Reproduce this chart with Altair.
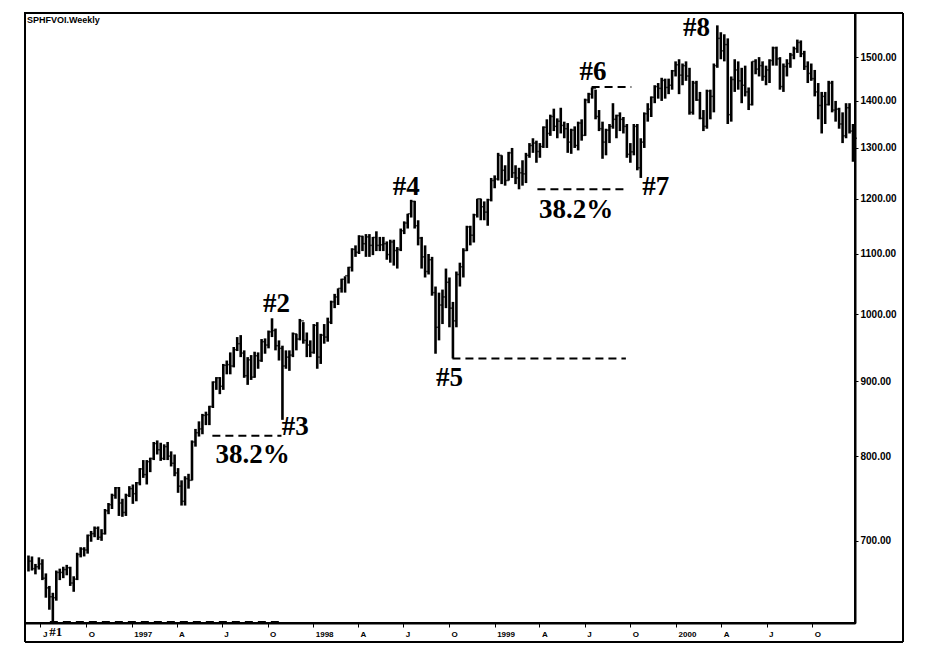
import altair as alt
import pandas as pd

# ---------------- weekly bars (futures) ----------------
H96 = [684,683,675,682,680,665,652,645,668,670,672,674,672,662,687,693,693,707,711,716,716,713,736,743,754,762,762,748,754,763]
L96 = [667,668,664,669,658,640,628,614,637,658,660,663,652,646,658,682,683,686,699,704,701,700,707,730,736,748,728,727,728,750]
C96 = [678,670,672,675,660,650,641,640,666,666,669,671,655,659,685,691,690,706,708,714,704,708,734,741,752,761,743,732,752,760]

H97 = [765,768,785,795,795,798,818,820,817,815, 818,806,802,785,770,775,778,820,835,845,
       855,858,866,900,906,906,925,930,942,950, 965,968,945,935,938,943,942,962,963,975,
       994,978,960,952,945,945,972,970,993,988, 972,960]
L97 = [742,745,764,773,765,780,795,802,794,795, 795,787,775,755,740,740,760,770,812,825,
       828,840,840,863,888,882,888,910,910,920, 944,935,905,895,902,905,918,928,940,948,
       965,945,930,847,918,915,935,945,960,955, 935,935]
C97 = [754,767,784,777,793,797,816,808,797,812, 800,791,779,763,745,772,770,818,830,835,
       853,854,865,899,905,893,923,924,922,946, 955,941,908,931,906,937,930,958,953,973,
       975,952,948,922,935,938,970,962,990,960, 953,942]

H98 = [985,988,970,985,995,1022,1033,1042,1058,1062, 1078,1110,1115,1133,1132,1135,1135,1130,1140,1130,
       1130,1122,1125,1125,1112,1145,1158,1172,1198,1196, 1160,1130,1115,1100,1095,1045,1035,1040,1075,1060,
       1020,1070,1085,1110,1150,1150,1172,1200,1200,1195, 1200,1240]
L98 = [940,918,925,955,958,985,1010,1015,1035,1035, 1050,1070,1095,1100,1105,1095,1095,1098,1105,1105,
       1105,1090,1085,1080,1075,1105,1135,1145,1165,1145, 1115,1075,1060,1065,1030,940,960,985,1010,980,
       933,980,1045,1060,1105,1115,1120,1165,1160,1160, 1150,1195]
C98 = [983,935,968,965,988,1020,1028,1042,1057,1063, 1077,1108,1103,1131,1118,1130,1115,1129,1115,1116,
       1118,1099,1121,1106,1108,1141,1155,1172,1195,1150, 1128,1095,1070,1090,1035,980,1015,1028,1052,1010,
       990,1065,1078,1106,1148,1133,1170,1200,1185,1175, 1198,1235]

H99 = [1245,1290,1285,1265,1292,1300,1265,1260,1275,1290, 1310,1320,1315,1310,1345,1360,1370,1383,1362,1385,
       1355,1352,1340,1345,1355,1360,1405,1418,1430,1425, 1380,1355,1340,1350,1395,1370,1375,1365,1350,1310,
       1350,1350,1320,1375,1395,1410,1435,1440,1452,1450, 1450,1470,1490]
L99 = [1220,1235,1228,1225,1235,1240,1228,1218,1225,1230, 1280,1290,1270,1280,1300,1300,1325,1335,1320,1330,
       1320,1290,1288,1300,1295,1315,1325,1395,1405,1360, 1335,1278,1285,1310,1340,1320,1335,1330,1280,1270,
       1285,1255,1240,1300,1355,1365,1395,1405,1400,1405, 1415,1425,1455]
C99 = [1238,1285,1255,1235,1290,1250,1240,1250,1248,1285, 1305,1310,1293,1303,1343,1330,1366,1345,1356,1347,
       1340,1312,1337,1305,1352,1326,1402,1415,1428,1366, 1340,1312,1337,1345,1360,1368,1360,1345,1287,1292,
       1345,1260,1312,1372,1382,1408,1432,1428,1446,1430, 1435,1468,1482]

H00 = [1495,1485,1490,1475,1445,1445,1420,1380,1425,1425, 1485,1577,1560,1555,1545,1455,1495,1490,1475,1480,
       1430,1490,1495,1500,1490,1480,1495,1525,1525,1500, 1485,1495,1510,1525,1542,1540,1515,1490,1485,1470,
       1440,1420,1420,1445,1445,1400,1385,1375,1395,1395, 1350]
L00 = [1415,1435,1445,1370,1370,1400,1360,1335,1340,1360, 1375,1475,1495,1490,1350,1355,1420,1425,1395,1410,
       1380,1390,1460,1455,1445,1435,1440,1480,1480,1425, 1420,1455,1475,1495,1510,1500,1470,1440,1445,1410,
       1360,1330,1350,1390,1375,1355,1340,1310,1320,1330, 1272]
C00 = [1458,1480,1456,1375,1440,1402,1362,1345,1422,1410, 1480,1545,1515,1530,1370,1448,1470,1445,1435,1420,
       1392,1490,1472,1480,1455,1470,1492,1522,1496,1432, 1478,1485,1505,1520,1535,1508,1478,1462,1450,1420,
       1390,1410,1392,1440,1380,1382,1350,1325,1385,1335, 1320]

high = H96 + H97 + H98 + H99 + H00
low = L96 + L97 + L98 + L99 + L00
close = C96 + C97 + C98 + C99 + C00
first_week = "1996-06-07"

# ---------------- annotations ----------------
level_start = ["1996-07-20", "1997-06-12", "1998-10-08", "1999-07-15", "1999-03-28"]
level_end = ["1997-10-25", "1997-10-29", "1999-09-22", "1999-10-03", "1999-09-24"]
level_value = [616, 826, 933, 1431, 1218]

note_date = ["1997-10-19", "1997-11-26", "1997-09-01", "1998-07-07", "1998-10-02",
             "1999-07-18", "1999-11-21", "1999-06-14", "2000-02-11"]
note_value = [1017, 838, 801, 1222, 905, 1465, 1222, 1179, 1570]
note_text = ["#2", "#3", "38.2%", "#4", "#5", "#6", "#7", "38.2%", "#8"]

y_ticks = [700, 800, 900, 1000, 1100, 1200, 1300, 1400, 1500]
quarters = [(1996, 7), (1996, 10)] + [(y, m) for y in (1997, 1998, 1999, 2000) for m in (1, 4, 7, 10)]

# ---------------- build ----------------
dates = pd.date_range(first_week, periods=len(high), freq="7D").strftime("%Y-%m-%d")
df = pd.DataFrame({"date": list(dates), "high": high, "low": low, "close": close})
lv = pd.DataFrame({"start": level_start, "end": level_end, "level": level_value})
nt = pd.DataFrame({"date": note_date, "value": note_value, "label": note_text})
one = pd.DataFrame({"a": [0]})

xs = alt.Scale(domain=[alt.DateTime(year=1996, month=5, date=31),
                       alt.DateTime(year=2000, month=12, date=26)])
ys = alt.Scale(type="log", domain=[615, 1608], nice=False)

label_expr = ("month(datum.value)==0 ? timeFormat(datum.value,'%Y') : "
              "month(datum.value)==3 ? 'A' : month(datum.value)==6 ? 'J' : 'O'")

x_axis = alt.Axis(values=[alt.DateTime(year=y, month=m, date=1) for y, m in quarters],
                  labelExpr=label_expr, labelAlign="left", labelOffset=2, labelPadding=3,
                  labelFont="Liberation Sans", labelFontWeight="bold", labelFontSize=8,
                  labelColor="black", labelOverlap=False, tickColor="black", tickSize=4,
                  domainColor="black", domainWidth=2, grid=False, title=None)
y_axis = alt.Axis(orient="right", values=y_ticks, format=".2f", labelPadding=2,
                  labelFont="Liberation Sans", labelFontWeight="bold", labelFontSize=10,
                  labelColor="black", tickColor="black", tickSize=3,
                  domainColor="black", domainWidth=2, grid=False, title=None)

base = alt.Chart(df)
bars = base.mark_rule(color="black", strokeWidth=2.6).encode(
    x=alt.X("date:T", scale=xs, axis=x_axis),
    y=alt.Y("low:Q", scale=ys, axis=y_axis),
    y2="high:Q")
ticks = base.mark_tick(color="black", orient="horizontal", size=4, thickness=1.5, xOffset=2).encode(
    x="date:T", y="close:Q")

levels = alt.Chart(lv).mark_rule(color="black", strokeWidth=2, strokeDash=[8, 5]).encode(
    x="start:T", x2="end:T", y="level:Q")

notes = alt.Chart(nt).mark_text(font="Liberation Serif", fontWeight="bold", fontSize=27,
                                color="black", align="center", baseline="middle").encode(
    x="date:T", y="value:Q", text="label:N")

n1 = alt.Chart(pd.DataFrame({"date": ["1996-08-01"], "value": [606], "label": ["#1"]})).mark_text(
    font="Liberation Serif", fontWeight="bold", fontSize=13, color="black",
    align="center", baseline="middle").encode(x="date:T", y="value:Q", text="label:N")

title = alt.Chart(one).mark_text(text="SPHFVOI.Weekly", font="Liberation Sans", fontWeight="bold",
                                 fontSize=9, align="left", baseline="middle", color="black").encode(
    x=alt.value(2), y=alt.value(7))

frame_r = alt.Chart(one).mark_rule(color="black", strokeWidth=2).encode(
    x=alt.value(878), y=alt.value(0), y2=alt.value(629))
frame_b = alt.Chart(one).mark_rule(color="black", strokeWidth=2).encode(
    x=alt.value(0), x2=alt.value(878), y=alt.value(629))
frame_l = alt.Chart(one).mark_rule(color="black", strokeWidth=2).encode(
    x=alt.value(0), y=alt.value(610), y2=alt.value(629))
frame_t = alt.Chart(one).mark_rule(color="black", strokeWidth=2).encode(
    x=alt.value(830), x2=alt.value(878), y=alt.value(0))

chart = alt.layer(bars, ticks, levels, notes, n1, title, frame_r, frame_b, frame_l, frame_t).properties(
    width=830, height=610, autosize="none",
    padding={"left": 17, "top": 5, "right": 60, "bottom": 35},
    background="white"
).configure_view(stroke="black", strokeWidth=2)

chart.save("out.html", embed_options={"renderer": "svg", "actions": False})
